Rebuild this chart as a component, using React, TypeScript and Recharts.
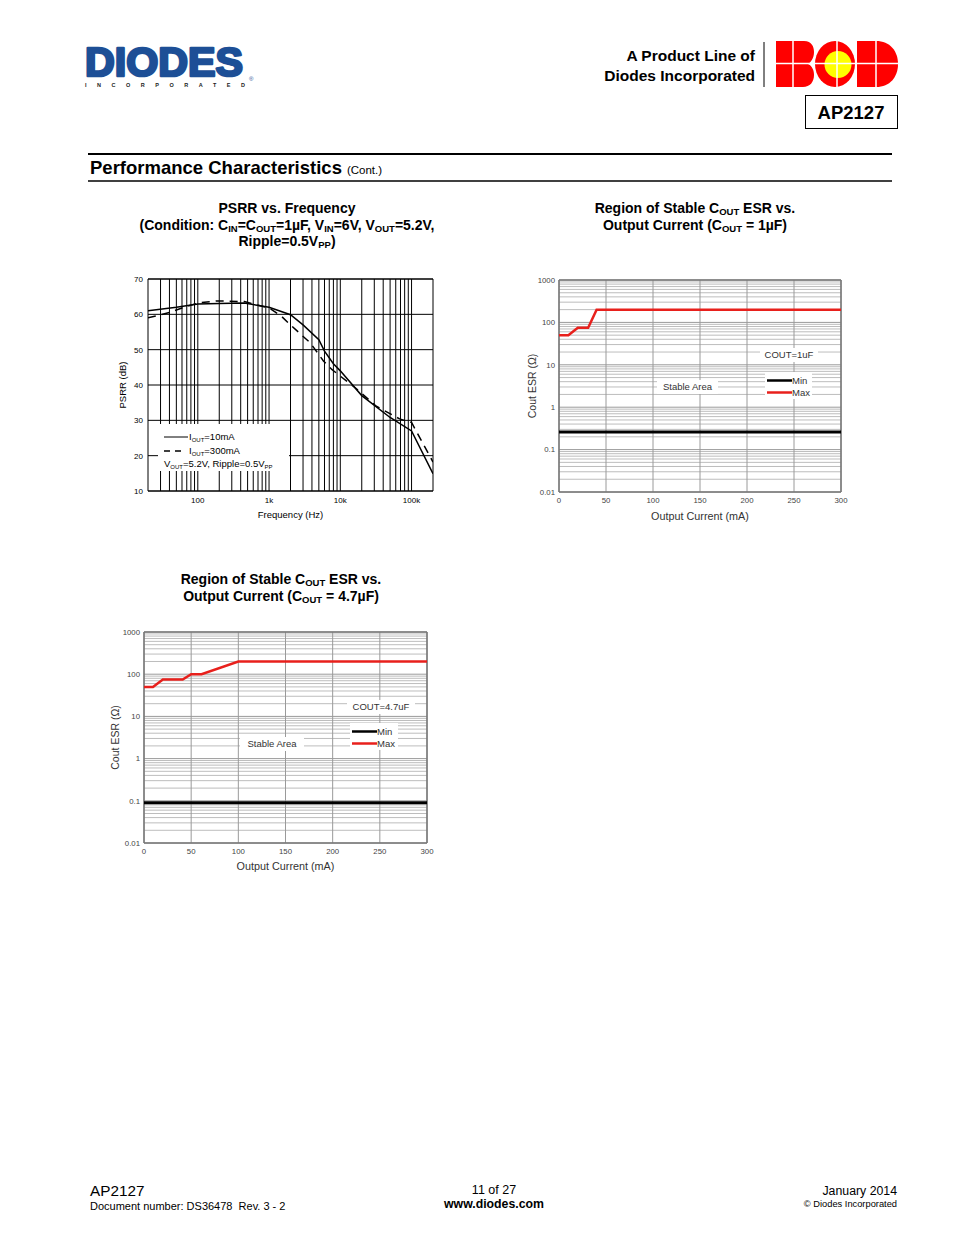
import React from 'react'
import {
  LineChart,
  Line,
  XAxis,
  YAxis,
  CartesianGrid,
  ReferenceLine,
  Legend,
} from 'recharts'

const FONT = '"Liberation Sans", Arial, Helvetica, sans-serif'

// ---- PSRR vs. Frequency ----
const psrrFreqTicks = [100, 1000, 10000, 100000]
const psrrFreqLabels = ['100', '1k', '10k', '100k']
const psrrDbTicks = [10, 20, 30, 40, 50, 60, 70]

const freq10mA = [20, 50, 100, 200, 450, 1000, 2000, 3000, 5000, 6000, 8000, 10000, 20000, 50000, 100000, 200000]
const psrr10mA = [61.0, 62.0, 62.9, 63.1, 63.2, 62.0, 59.9, 57.0, 52.8, 49.6, 46.0, 44.0, 37.0, 30.8, 27.0, 14.9]

const freq300mA = [20, 40, 60, 100, 190, 450, 1000, 1500, 2000, 3800, 5800, 7600, 10000, 16000, 32000, 68000, 100000, 200000]
const psrr300mA = [59.0, 60.5, 61.8, 63.2, 63.8, 63.6, 61.8, 59.4, 57.0, 51.9, 46.8, 44.4, 42.5, 39.3, 34.0, 30.4, 29.4, 18.2]

// ---- Region of stable COUT ESR ----
const currentTicks = [0, 50, 100, 150, 200, 250, 300]
const esrTicks = [0.01, 0.1, 1, 10, 100, 1000]
const esrTickLabels = ['0.01', '0.1', '1', '10', '100', '1000']

const cur1uFMax = [0, 10, 20, 31, 40, 300]
const esr1uFMax = [50, 50, 75, 75, 200, 200]
const cur1uFMin = [0, 300]
const esr1uFMin = [0.26, 0.26]

const cur47uFMax = [0, 9.5, 20, 41, 50, 61, 100, 300]
const esr47uFMax = [50, 50, 75, 75, 100, 100, 200, 200]
const cur47uFMin = [0, 300]
const esr47uFMin = [0.09, 0.09]

const zip = (xs: number[], ys: number[]) => xs.map((x, i) => ({ x, y: ys[i] }))

// log grid values (grid only, not data)
const psrrGridFreqs: number[] = []
for (const d of [10, 100, 1000, 10000, 100000]) {
  for (let m = 1; m <= 9; m++) {
    const v = m * d
    if (v > 20 && v < 200000) psrrGridFreqs.push(v)
  }
}
const esrMinorGrid: number[] = []
for (const d of [0.01, 0.1, 1, 10, 100]) {
  for (let m = 2; m <= 9; m++) esrMinorGrid.push(+(m * d).toPrecision(3))
}

const Sub = ({ children, size = 9.5 }: { children: React.ReactNode; size?: number }) => (
  <span style={{ fontSize: size, verticalAlign: '-2px', lineHeight: 0 }}>{children}</span>
)

function PsrrLegend() {
  return (
    <div
      style={{
        position: 'relative',
        width: 131,
        height: 47,
        background: '#fff',
        fontFamily: FONT,
        fontSize: 9.5,
        color: '#000',
      }}
    >
      <svg width={131} height={47} style={{ position: 'absolute', left: 0, top: 0 }}>
        <line x1={6} x2={30} y1={13} y2={13} stroke="#000" strokeWidth={1} />
        <line x1={6} x2={26} y1={27} y2={27} stroke="#000" strokeWidth={1.6} strokeDasharray="6 5" />
      </svg>
      <div style={{ position: 'absolute', left: 31, top: 7, whiteSpace: 'nowrap', lineHeight: '11px' }}>
        I<Sub size={6}>OUT</Sub>=10mA
      </div>
      <div style={{ position: 'absolute', left: 31, top: 21, whiteSpace: 'nowrap', lineHeight: '11px' }}>
        I<Sub size={6}>OUT</Sub>=300mA
      </div>
      <div style={{ position: 'absolute', left: 6, top: 34, whiteSpace: 'nowrap', lineHeight: '11px' }}>
        V<Sub size={6}>OUT</Sub>=5.2V, Ripple=0.5V<Sub size={6}>PP</Sub>
      </div>
    </div>
  )
}

function PsrrChart() {
  return (
    <div style={{ position: 'absolute', left: 98, top: 270 }}>
      <LineChart
        width={347}
        height={260}
        margin={{ top: 9, right: 12, bottom: 9, left: 0 }}
        style={{ fontFamily: FONT }}
      >
        <CartesianGrid vertical={false} stroke="#000" strokeWidth={1} />
        <XAxis
          dataKey="x"
          type="number"
          scale="log"
          domain={[20, 200000]}
          allowDataOverflow
          ticks={psrrFreqTicks}
          tickFormatter={(v: number) => psrrFreqLabels[psrrFreqTicks.indexOf(v)] ?? ''}
          tick={{ fill: '#000', fontSize: 8 }}
          tickLine={false}
          tickSize={4}
          tickMargin={2}
          axisLine={false}
          height={30}
          label={{ value: 'Frequency (Hz)', position: 'insideBottom', offset: 3, fill: '#000', fontSize: 9.5 }}
        />
        <YAxis
          type="number"
          domain={[10, 70]}
          ticks={psrrDbTicks}
          tick={{ fill: '#000', fontSize: 8 }}
          tickLine={false}
          tickSize={3}
          tickMargin={2}
          axisLine={false}
          width={50}
          label={{ value: 'PSRR (dB)', angle: -90, position: 'center', fill: '#000', fontSize: 9.5 }}
        />
        {psrrGridFreqs.map((f) => (
          <ReferenceLine key={f} x={f} stroke="#000" strokeWidth={1} />
        ))}
        <ReferenceLine x={20} stroke="#000" strokeWidth={1} />
        <ReferenceLine x={200000} stroke="#000" strokeWidth={1} />
        <ReferenceLine y={70} stroke="#000" strokeWidth={1} />
        <ReferenceLine y={10} stroke="#000" strokeWidth={1} />
        <Legend
          layout="vertical"
          align="center"
          verticalAlign="middle"
          wrapperStyle={{ left: 60, top: 154, width: 131, height: 47 }}
          content={() => <PsrrLegend />}
        />
        <Line
          data={zip(freq10mA, psrr10mA)}
          dataKey="y"
          stroke="#000"
          strokeWidth={1.5}
          dot={false}
          isAnimationActive={false}
        />
        <Line
          data={zip(freq300mA, psrr300mA)}
          dataKey="y"
          stroke="#000"
          strokeWidth={1.5}
          strokeDasharray="8 6"
          dot={false}
          isAnimationActive={false}
        />
      </LineChart>
    </div>
  )
}

interface BoxPos {
  left: number
  top: number
  width: number
}

function EsrOverlay({ cout, coutBox, stableBox, keyBox }: { cout: string; coutBox: BoxPos; stableBox: BoxPos; keyBox: BoxPos }) {
  const txt: React.CSSProperties = {
    position: 'absolute',
    height: 14,
    lineHeight: '14px',
    background: '#fff',
    textAlign: 'center',
    whiteSpace: 'nowrap',
  }
  return (
    <div style={{ position: 'relative', width: 1, height: 1, fontFamily: FONT, fontSize: 9.5, color: '#333' }}>
      <div style={{ ...txt, left: coutBox.left, top: coutBox.top, width: coutBox.width }}>{cout}</div>
      <div style={{ ...txt, left: stableBox.left, top: stableBox.top, width: stableBox.width }}>Stable Area</div>
      <div
        style={{
          position: 'absolute',
          left: keyBox.left,
          top: keyBox.top,
          width: keyBox.width,
          height: 27,
          background: '#fff',
        }}
      >
        <svg width={keyBox.width} height={27} style={{ position: 'absolute', left: 0, top: 0 }}>
          <line x1={2} x2={27} y1={8.5} y2={8.5} stroke="#000" strokeWidth={2.5} />
          <line x1={2} x2={27} y1={20.5} y2={20.5} stroke="#e8201c" strokeWidth={2.5} />
        </svg>
        <div style={{ position: 'absolute', left: 27, top: 3, lineHeight: '11px' }}>Min</div>
        <div style={{ position: 'absolute', left: 27, top: 15, lineHeight: '11px' }}>Max</div>
      </div>
    </div>
  )
}

function EsrChart({
  left,
  top,
  width,
  yAxisWidth,
  marginTop,
  marginBottom,
  labelOffset,
  maxData,
  minData,
  overlay,
}: {
  left: number
  top: number
  width: number
  yAxisWidth: number
  marginTop: number
  marginBottom: number
  labelOffset: number
  maxData: { x: number; y: number }[]
  minData: { x: number; y: number }[]
  overlay: React.ReactNode
}) {
  return (
    <div style={{ position: 'absolute', left, top }}>
      <LineChart
        width={width}
        height={260}
        margin={{ top: marginTop, right: 20, bottom: marginBottom, left: 0 }}
        style={{ fontFamily: FONT }}
      >
        <XAxis
          dataKey="x"
          type="number"
          domain={[0, 300]}
          ticks={currentTicks}
          tick={{ fill: '#444', fontSize: 7.8 }}
          tickLine={false}
          tickSize={3}
          tickMargin={2.5}
          axisLine={false}
          height={30}
          label={{ value: 'Output Current (mA)', position: 'insideBottom', offset: labelOffset, fill: '#333', fontSize: 10.8 }}
        />
        <YAxis
          type="number"
          scale="log"
          domain={[0.01, 1000]}
          allowDataOverflow
          ticks={esrTicks}
          tickFormatter={(v: number) => esrTickLabels[esrTicks.indexOf(v)] ?? String(v)}
          tick={{ fill: '#444', fontSize: 7.8 }}
          tickLine={false}
          tickSize={2}
          tickMargin={2}
          axisLine={false}
          width={yAxisWidth}
          label={{ value: 'Cout ESR (\u03a9)', angle: -90, position: 'center', fill: '#333', fontSize: 10.5 }}
        />
        {esrMinorGrid.map((v) => (
          <ReferenceLine key={v} y={v} stroke="#bdbdbd" strokeWidth={1} />
        ))}
        {esrTicks.map((v) => (
          <ReferenceLine key={'d' + v} y={v} stroke="#9a9a9a" strokeWidth={1} />
        ))}
        {currentTicks.map((v) => (
          <ReferenceLine key={'c' + v} x={v} stroke="#9a9a9a" strokeWidth={1} />
        ))}
        <ReferenceLine x={0} stroke="#777" strokeWidth={1.5} />
        <ReferenceLine x={300} stroke="#777" strokeWidth={1.5} />
        <ReferenceLine y={1000} stroke="#777" strokeWidth={1.5} />
        <ReferenceLine y={0.01} stroke="#777" strokeWidth={1.5} />
        <Legend
          layout="vertical"
          align="center"
          verticalAlign="middle"
          wrapperStyle={{ left: 0, top: 0, width: 1, height: 1, overflow: 'visible' }}
          content={() => overlay}
        />
        <Line data={minData} dataKey="y" stroke="#000" strokeWidth={3} dot={false} isAnimationActive={false} />
        <Line data={maxData} dataKey="y" stroke="#e8201c" strokeWidth={2.5} dot={false} isAnimationActive={false} />
      </LineChart>
    </div>
  )
}

const titleStyle: React.CSSProperties = {
  position: 'absolute',
  width: 420,
  textAlign: 'center',
  fontFamily: FONT,
  fontWeight: 700,
  fontSize: 14,
  lineHeight: '16.5px',
  color: '#000',
}

function PageFrame() {
  return (
    <svg width={954} height={1235} style={{ position: 'absolute', left: 0, top: 0 }} fontFamily={FONT}>
      {/* DIODES logo */}
      <text
        x={85}
        y={76}
        fontSize={40}
        fontWeight={900}
        fill="#1d4f96"
        stroke="#1d4f96"
        strokeWidth={2.6}
        strokeLinejoin="round"
        textLength={158}
        lengthAdjust="spacingAndGlyphs"
      >
        DIODES
      </text>
      <text x={249} y={81} fontSize={6} fill="#1d4f96">
        ®
      </text>
      <text x={85} y={87} fontSize={5.5} fontWeight={700} fill="#222" textLength={160} lengthAdjust="spacing">
        INCORPORATED
      </text>

      {/* A product line of */}
      <text x={755} y={61} textAnchor="end" fontSize={15.5} fontWeight={700}>
        A Product Line of
      </text>
      <text x={755} y={81} textAnchor="end" fontSize={15.5} fontWeight={700}>
        Diodes Incorporated
      </text>
      <line x1={764} x2={764} y1={42} y2={87} stroke="#000" strokeWidth={1} />

      {/* BCD logo */}
      <g transform="translate(776,41)">
        <path d="M0 0 H28 C36 0 38 6 38 11 C38 17 35 21 32 23 C36 25 38 29 38 34 C38 41 34 46 27 46 H0 Z" fill="#ff0000" />
        <ellipse cx={59} cy={23} rx={20} ry={23} fill="#ff0000" />
        <circle cx={62} cy={23.5} r={13.5} fill="#ffff00" />
        <path d="M81 0 H100 C114 0 122 10 122 23 C122 36 114 46 100 46 H81 Z" fill="#ff0000" />
        <line x1={0} x2={122} y1={22.5} y2={22.5} stroke="#fff" strokeWidth={1.5} />
        <line x1={17} x2={17} y1={0} y2={46} stroke="#fff" strokeWidth={1.5} />
        <line x1={61} x2={61} y1={0} y2={46} stroke="#fff" strokeWidth={1.5} />
        <line x1={100} x2={100} y1={0} y2={46} stroke="#fff" strokeWidth={1.5} />
      </g>

      {/* part number box */}
      <rect x={805.5} y={95.5} width={92} height={33} fill="none" stroke="#000" strokeWidth={1} />
      <text x={851} y={119} textAnchor="middle" fontSize={18.5} fontWeight={700}>
        AP2127
      </text>

      {/* section heading */}
      <line x1={88} x2={892} y1={154} y2={154} stroke="#000" strokeWidth={2} />
      <text x={90} y={174} fontSize={18.5} fontWeight={700}>
        Performance Characteristics
        <tspan fontSize={11.5} fontWeight={400} dx={5}>
          (Cont.)
        </tspan>
      </text>
      <line x1={88} x2={892} y1={181} y2={181} stroke="#000" strokeWidth={1.5} />

      {/* footer */}
      <text x={90} y={1196} fontSize={15.3}>
        AP2127
      </text>
      <text x={90} y={1210} fontSize={11}>
        {'Document number: DS36478\u00a0 Rev. 3 - 2'}
      </text>
      <text x={494} y={1194} textAnchor="middle" fontSize={12.5}>
        11 of 27
      </text>
      <text x={494} y={1208} textAnchor="middle" fontSize={12.3} fontWeight={700}>
        www.diodes.com
      </text>
      <text x={897} y={1195} textAnchor="end" fontSize={12.3}>
        January 2014
      </text>
      <text x={897} y={1207} textAnchor="end" fontSize={9.3}>
        © Diodes Incorporated
      </text>
    </svg>
  )
}

export default function App() {
  return (
    <div style={{ position: 'absolute', left: 0, top: 0, width: 954, height: 1235, background: '#fff', overflow: 'hidden' }}>
      <PageFrame />

      <div style={{ ...titleStyle, left: 287 - 210, top: 200 }}>
        PSRR vs. Frequency
        <br />
        (Condition: C<Sub>IN</Sub>=C<Sub>OUT</Sub>=1µF, V<Sub>IN</Sub>=6V, V<Sub>OUT</Sub>=5.2V,
        <br />
        Ripple=0.5V<Sub>PP</Sub>)
      </div>
      <div style={{ ...titleStyle, left: 695 - 210, top: 200 }}>
        Region of Stable C<Sub>OUT</Sub> ESR vs.
        <br />
        Output Current (C<Sub>OUT</Sub> = 1µF)
      </div>
      <div style={{ ...titleStyle, left: 281 - 210, top: 571 }}>
        Region of Stable C<Sub>OUT</Sub> ESR vs.
        <br />
        Output Current (C<Sub>OUT</Sub> = 4.7µF)
      </div>

      <PsrrChart />

      <EsrChart
        left={505}
        top={270}
        width={356}
        yAxisWidth={54}
        marginTop={10}
        marginBottom={8}
        labelOffset={2.5}
        maxData={zip(cur1uFMax, esr1uFMax)}
        minData={zip(cur1uFMin, esr1uFMin)}
        overlay={
          <EsrOverlay
            cout="COUT=1uF"
            coutBox={{ left: 255, top: 78, width: 58 }}
            stableBox={{ left: 152, top: 110, width: 61 }}
            keyBox={{ left: 260, top: 102, width: 47 }}
          />
        }
      />

      <EsrChart
        left={86}
        top={625}
        width={361}
        yAxisWidth={58}
        marginTop={7}
        marginBottom={12}
        labelOffset={3.5}
        maxData={zip(cur47uFMax, esr47uFMax)}
        minData={zip(cur47uFMin, esr47uFMin)}
        overlay={
          <EsrOverlay
            cout="COUT=4.7uF"
            coutBox={{ left: 261, top: 75, width: 68 }}
            stableBox={{ left: 154, top: 112, width: 64 }}
            keyBox={{ left: 264, top: 98, width: 48 }}
          />
        }
      />
    </div>
  )
}
